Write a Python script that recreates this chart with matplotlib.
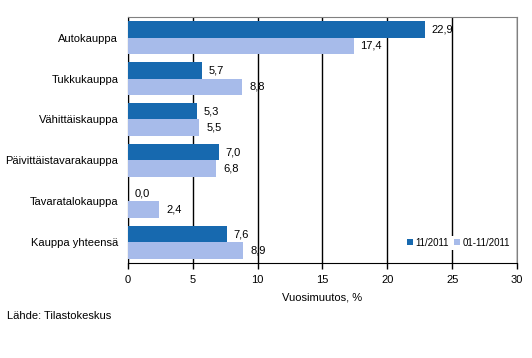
import matplotlib
matplotlib.use('Agg')
import matplotlib.pyplot as plt
import numpy as np

plt.rcParams['font.family'] = ['Liberation Sans', 'DejaVu Sans']

categories = ['Autokauppa', 'Tukkukauppa', 'Vähittäiskauppa',
              'Päivittäistavarakauppa', 'Tavaratalokauppa', 'Kauppa yhteensä']
month_vals = [22.9, 5.7, 5.3, 7.0, 0.0, 7.6]
cum_vals = [17.4, 8.8, 5.5, 6.8, 2.4, 8.9]
series_names = ['11/2011', '01-11/2011']
xticks = [0, 5, 10, 15, 20, 25, 30]

dark = '#1769AF'
light = '#A7BBEA'

fig = plt.figure(figsize=(5.32, 3.58), dpi=100)
ax = fig.add_axes([0.2406, 0.2654, 0.7312, 0.6871])

y = np.arange(len(categories))
h = 0.4
b1 = ax.barh(y - h / 2, month_vals, height=h, color=dark, label=series_names[0], zorder=3)
b2 = ax.barh(y + h / 2, cum_vals, height=h, color=light, label=series_names[1], zorder=3)

def fmt(v):
    return ('%.1f' % v).replace('.', ',')

for bars, vals in ((b1, month_vals), (b2, cum_vals)):
    for bar, v in zip(bars, vals):
        ax.annotate(fmt(v), (v, bar.get_y() + bar.get_height() / 2),
                    xytext=(5, 0), textcoords='offset points',
                    va='center', ha='left', fontsize=8, zorder=5)

ax.set_xlim(0, 30)
ax.set_ylim(len(categories) - 0.5, -0.5)
ax.set_yticks(y)
ax.set_yticklabels(categories, fontsize=8)
ax.tick_params(axis='y', length=0, pad=7)
ax.set_xticks(xticks)
ax.set_xticklabels([str(t) for t in xticks], fontsize=8)
ax.tick_params(axis='x', length=4, width=1, direction='out', pad=5)
ax.xaxis.grid(True, color='black', linewidth=1, zorder=1)
ax.set_axisbelow(True)

ax.spines['top'].set_color('#808080')
ax.spines['right'].set_color('#808080')
ax.spines['left'].set_color('black')
ax.spines['bottom'].set_color('black')

ax.set_xlabel('Vuosimuutos, %', fontsize=8, labelpad=5)

leg = ax.legend(loc='lower right', bbox_to_anchor=(1.0, 0.035), ncol=2, fontsize=7,
                frameon=True, handlelength=0.6, handleheight=0.6,
                handletextpad=0.3, columnspacing=0.5, borderpad=0.2)
leg.get_frame().set_edgecolor('none')
leg.get_frame().set_facecolor('white')
leg.get_frame().set_alpha(1)
leg.set_zorder(6)

fig.text(0.013, 0.117, 'Lähde: Tilastokeskus', fontsize=8, ha='left', va='center')

fig.savefig('out.png', dpi=100)
